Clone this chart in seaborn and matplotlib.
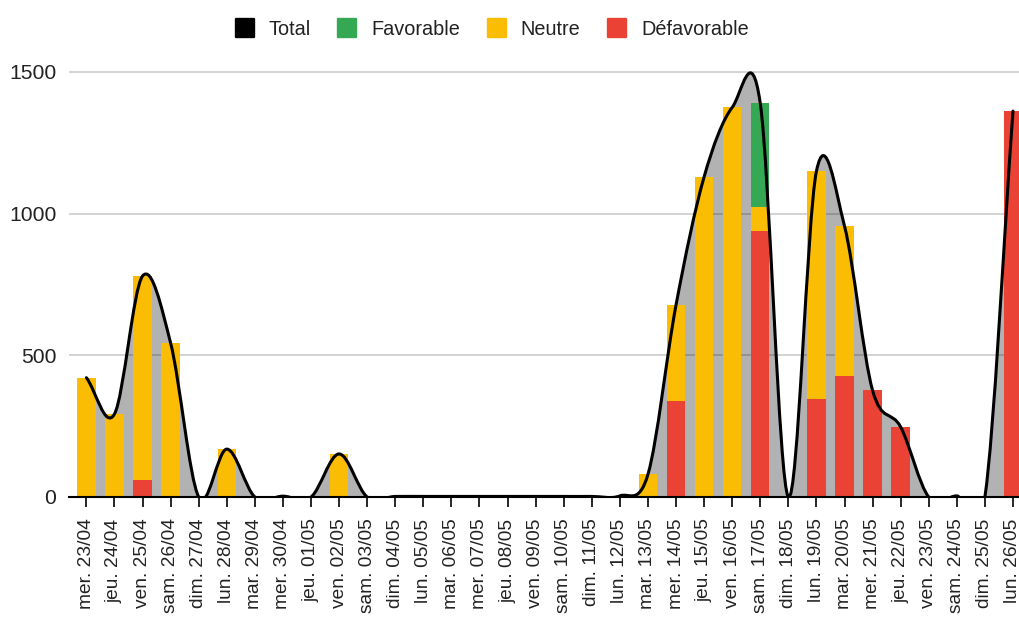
import numpy as np
import pandas as pd
import matplotlib
matplotlib.use("Agg")
import matplotlib.pyplot as plt
from matplotlib.path import Path
from matplotlib.patches import PathPatch
from matplotlib.lines import Line2D
from matplotlib.markers import MarkerStyle
import seaborn as sns

# ---------------- data ----------------
dates = ["mer. 23/04", "jeu. 24/04", "ven. 25/04", "sam. 26/04", "dim. 27/04",
         "lun. 28/04", "mar. 29/04", "mer. 30/04", "jeu. 01/05", "ven. 02/05",
         "sam. 03/05", "dim. 04/05", "lun. 05/05", "mar. 06/05", "mer. 07/05",
         "jeu. 08/05", "ven. 09/05", "sam. 10/05", "dim. 11/05", "lun. 12/05",
         "mar. 13/05", "mer. 14/05", "jeu. 15/05", "ven. 16/05", "sam. 17/05",
         "dim. 18/05", "lun. 19/05", "mar. 20/05", "mer. 21/05", "jeu. 22/05",
         "ven. 23/05", "sam. 24/05", "dim. 25/05", "lun. 26/05"]
defavorable = [0, 0, 60, 0, 0, 0, 0, 0, 0, 0,
               0, 0, 0, 0, 0, 0, 0, 0, 0, 0,
               0, 339, 0, 0, 938, 0, 345, 428, 376, 247,
               0, 0, 0, 1362]
neutre = [421, 293, 720, 543, 0, 169, 0, 3, 0, 152,
          0, 2, 2, 2, 2, 2, 2, 2, 2, 4,
          80, 339, 1130, 1375, 84, 0, 805, 528, 0, 0,
          0, 4, 0, 0]
favorable = [0, 0, 0, 0, 0, 0, 0, 0, 0, 0,
             0, 0, 0, 0, 0, 0, 0, 0, 0, 0,
             0, 0, 0, 0, 367, 0, 0, 0, 0, 0,
             0, 0, 0, 0]
y_ticks = [0, 500, 1000, 1500]

GREEN = "#34A853"
YELLOW = "#FBBC04"
RED = "#EA4335"
TEXT = "#222222"

sns.set_theme(style="white")
plt.rcParams['font.family'] = ['Liberation Sans', 'DejaVu Sans']

d = np.array(defavorable, dtype=float)
nt = np.array(neutre, dtype=float)
fv = np.array(favorable, dtype=float)
total = d + nt + fv
df = pd.DataFrame({
    "date": dates,
    "cum_fav": total,
    "cum_neu": d + nt,
    "def": d,
})

fig = plt.figure(figsize=(10.2, 6.24), dpi=100)
W, H = 1020, 624
ax = fig.add_axes([69 / W, 1 - 497 / H, 1 - 69 / W, (497 - 62) / H])

# ---------------- stacked bars (drawn as cumulative layers) ----------------
for col, color in [("cum_fav", GREEN), ("cum_neu", YELLOW), ("def", RED)]:
    sns.barplot(data=df, x="date", y=col, color=color, saturation=1,
                width=0.655, errorbar=None, ax=ax, zorder=2, linewidth=0)

# ---------------- smoothed total line + area ----------------
n = len(dates)
x = np.arange(n, dtype=float)
y = total
m = np.empty(n)
m[1:-1] = (y[2:] - y[:-2]) / 2
m[0] = y[1] - y[0]
m[-1] = y[-1] - y[-2]
verts = [(x[0], y[0])]
codes = [Path.MOVETO]
for i in range(n - 1):
    verts += [(x[i] + 1 / 3, y[i] + m[i] / 3),
              (x[i + 1] - 1 / 3, y[i + 1] - m[i + 1] / 3),
              (x[i + 1], y[i + 1])]
    codes += [Path.CURVE4] * 3
line_path = Path(verts, codes)
area_path = Path(verts + [(x[-1], 0), (x[0], 0), (x[0], y[0])],
                 codes + [Path.LINETO, Path.LINETO, Path.CLOSEPOLY])
ax.add_patch(PathPatch(area_path, facecolor="black", alpha=0.3,
                       edgecolor="none", zorder=1.5))
ax.add_patch(PathPatch(line_path, fill=False, edgecolor="black",
                       linewidth=2.2, zorder=3, capstyle="round",
                       joinstyle="round"))

# ---------------- axes styling ----------------
ax.set_xlim(-0.62, n - 1 + 0.25)
ax.set_ylim(0, 1500 * (497 - 62) / 425)
ax.set_yticks(y_ticks)
ax.set_yticklabels([str(v) for v in y_ticks])
ax.yaxis.grid(True, color="#cccccc", linewidth=1.2)
ax.xaxis.grid(False)
ax.set_axisbelow(True)
ax.set_xlabel("")
ax.set_ylabel("")
for s in ["left", "top", "right"]:
    ax.spines[s].set_visible(False)
ax.spines["bottom"].set_color("black")
ax.spines["bottom"].set_linewidth(1.5)
ax.spines["bottom"].set_zorder(4)

ax.set_xticks(range(n))
ax.set_xticklabels(dates, rotation=90, fontsize=13.8, color=TEXT)
ax.tick_params(axis="x", bottom=True, length=7.5, width=1.2, color="black",
               direction="out", pad=8)
ax.tick_params(axis="y", left=False, length=0, pad=9, labelsize=15.2,
               labelcolor=TEXT)

# ---------------- legend ----------------
ms = MarkerStyle("s", joinstyle="round")
handles = [Line2D([], [], linestyle="none", marker=ms, markersize=12.5,
                  markerfacecolor=c, markeredgecolor=c, markeredgewidth=1.7)
           for c in ["black", GREEN, YELLOW, RED]]
labels = ["Total", "Favorable", "Neutre", "Défavorable"]
leg = fig.legend(handles, labels, loc="center", bbox_to_anchor=(0.482, 0.953),
                 ncol=4, frameon=False, fontsize=14.3, handlelength=1.0,
                 handletextpad=0.7, columnspacing=1.35)
for t in leg.get_texts():
    t.set_color(TEXT)

fig.savefig("out.png", dpi=100)
